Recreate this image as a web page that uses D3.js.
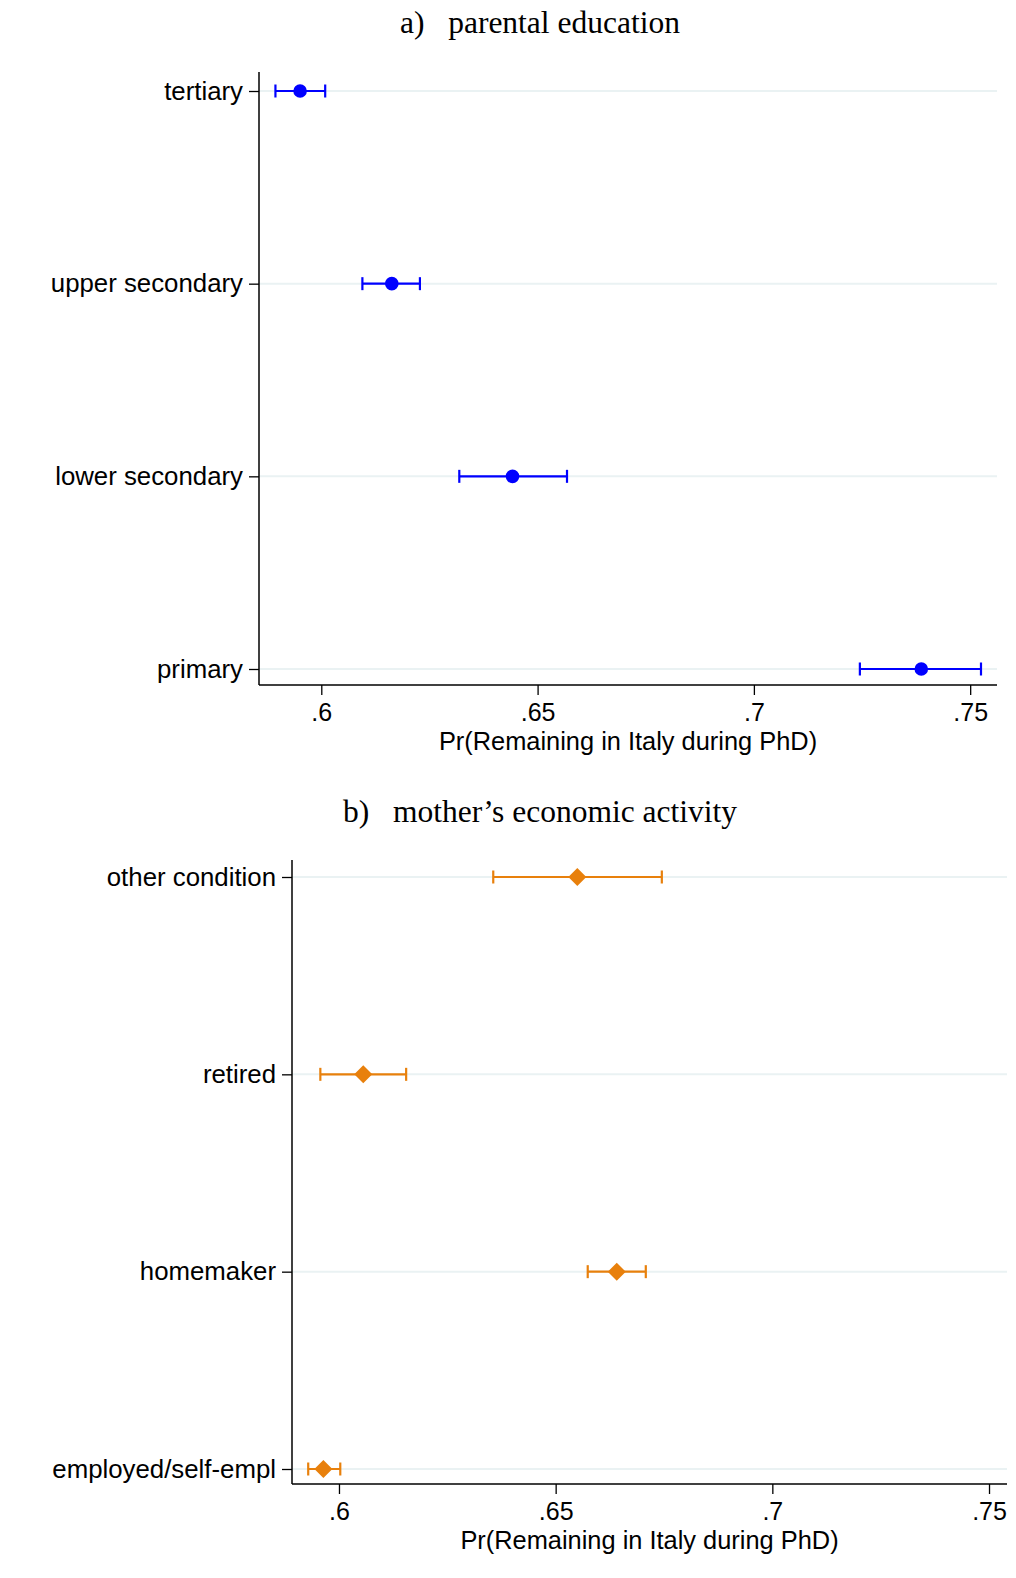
<!DOCTYPE html>
<html>
<head>
<meta charset="utf-8">
<script src="https://cdn.jsdelivr.net/npm/d3@7"></script>
<style>
  body { margin: 0; background: #fff; }
  svg text { fill: #000; }
  .cat { font-family: "Liberation Sans", Arial, sans-serif; font-size: 25.8px; }
  .tick-x { font-family: "Liberation Sans", Arial, sans-serif; font-size: 25px; }
  .xtitle { font-family: "Liberation Sans", Arial, sans-serif; font-size: 25.4px; }
  .ptitle { font-family: "Liberation Serif", "Times New Roman", serif; font-size: 31.5px; }
</style>
</head>
<body>
<svg id="chart" width="1016" height="1578"></svg>
<script>
// panel a: parental education
const eduCats = ["tertiary", "upper secondary", "lower secondary", "primary"];
const eduEst = [0.5951, 0.6163, 0.6442, 0.7387];
const eduLo = [0.5894, 0.6095, 0.6319, 0.7245];
const eduHi = [0.6009, 0.6228, 0.6568, 0.7525];

// panel b: mother's economic activity
const momCats = ["other condition", "retired", "homemaker", "employed/self-empl"];
const momEst = [0.6550, 0.6056, 0.6641, 0.5964];
const momLo = [0.6356, 0.5957, 0.6574, 0.5929];
const momHi = [0.6745, 0.6155, 0.6708, 0.6003];

const xTicks = [0.6, 0.65, 0.7, 0.75];
const xTitle = "Pr(Remaining in Italy during PhD)";

const svg = d3.select('#chart');

function panel(opts) {
    const g = svg.append('g');

    const x = d3.scaleLinear().domain(opts.xDomain).range([opts.left, opts.right]);
    const y = d3.scalePoint().domain(opts.cats).range([opts.yFirst, opts.yLast]);

    // title
    g.append('text')
        .attr('class', 'ptitle')
        .attr('x', 540).attr('y', opts.titleY)
        .attr('text-anchor', 'middle')
        .attr('xml:space', 'preserve')
        .text(opts.title);

    // gridlines
    g.selectAll('line.grid')
        .data(opts.cats)
        .join('line')
        .attr('class', 'grid')
        .attr('x1', opts.left).attr('x2', opts.right)
        .attr('y1', (d) => y(d)).attr('y2', (d) => y(d))
        .attr('stroke', '#eaf2f3')
        .attr('stroke-width', 2);

    // y axis
    const yAxis = g.append('g')
        .attr('transform', `translate(${opts.left},0)`)
        .call(d3.axisLeft(y).tickSize(10).tickPadding(6));
    yAxis.select('.domain')
        .attr('d', `M0,${opts.top}V${opts.bottom}`)
        .attr('stroke-width', 1.5);
    yAxis.selectAll('.tick line').attr('stroke-width', 1.3);
    yAxis.selectAll('.tick text').attr('class', 'cat').attr('font-size', null).attr('font-family', null);

    // x axis
    const xAxis = g.append('g')
        .attr('transform', `translate(0,${opts.bottom})`)
        .call(d3.axisBottom(x).tickValues(xTicks).tickSize(10).tickPadding(6)
            .tickFormat((d) => d3.format('.2~f')(d).replace(/^0/, '')));
    xAxis.select('.domain')
        .attr('d', `M${opts.left},0H${opts.right}`)
        .attr('stroke-width', 1.5);
    xAxis.selectAll('.tick line').attr('stroke-width', 1.3);
    xAxis.selectAll('.tick text').attr('class', 'tick-x').attr('font-size', null).attr('font-family', null)
        .attr('dy', null).attr('y', 29).attr('dominant-baseline', 'middle');

    g.append('text')
        .attr('class', 'xtitle')
        .attr('x', (opts.left + opts.right) / 2)
        .attr('y', opts.bottom + 58)
        .attr('text-anchor', 'middle')
        .attr('dominant-baseline', 'middle')
        .text(xTitle);

    // error bars
    const rows = opts.cats.map((c, i) => ({cat: c, est: opts.est[i], lo: opts.lo[i], hi: opts.hi[i]}));
    const bars = g.append('g').selectAll('g').data(rows).join('g')
        .attr('stroke', opts.color).attr('stroke-width', 2.2);
    bars.append('line')
        .attr('x1', (d) => x(d.lo)).attr('x2', (d) => x(d.hi))
        .attr('y1', (d) => y(d.cat)).attr('y2', (d) => y(d.cat));
    bars.append('line')
        .attr('x1', (d) => x(d.lo)).attr('x2', (d) => x(d.lo))
        .attr('y1', (d) => y(d.cat) - 6.5).attr('y2', (d) => y(d.cat) + 6.5);
    bars.append('line')
        .attr('x1', (d) => x(d.hi)).attr('x2', (d) => x(d.hi))
        .attr('y1', (d) => y(d.cat) - 6.5).attr('y2', (d) => y(d.cat) + 6.5);

    // markers
    g.append('g').selectAll('path').data(rows).join('path')
        .attr('transform', (d) => `translate(${x(d.est)},${y(d.cat)})`)
        .attr('d', opts.symbol)
        .attr('fill', opts.color);
}

panel({
    title: 'a)   parental education',
    titleY: 33,
    cats: eduCats, est: eduEst, lo: eduLo, hi: eduHi,
    xDomain: [0.5856, 0.7562],
    left: 259, right: 997,
    top: 72, bottom: 685,
    yFirst: 91, yLast: 669,
    color: '#0000ff',
    symbol: d3.symbol(d3.symbolCircle, Math.PI * 6.8 * 6.8)()
});

panel({
    title: 'b)   mother\u2019s economic activity',
    titleY: 822,
    cats: momCats, est: momEst, lo: momLo, hi: momHi,
    xDomain: [0.58916, 0.75415],
    left: 292, right: 1007,
    top: 860, bottom: 1484,
    yFirst: 877, yLast: 1469,
    color: '#e8800c',
    symbol: 'M0,-9L9,0L0,9L-9,0Z'
});
</script>
</body>
</html>
